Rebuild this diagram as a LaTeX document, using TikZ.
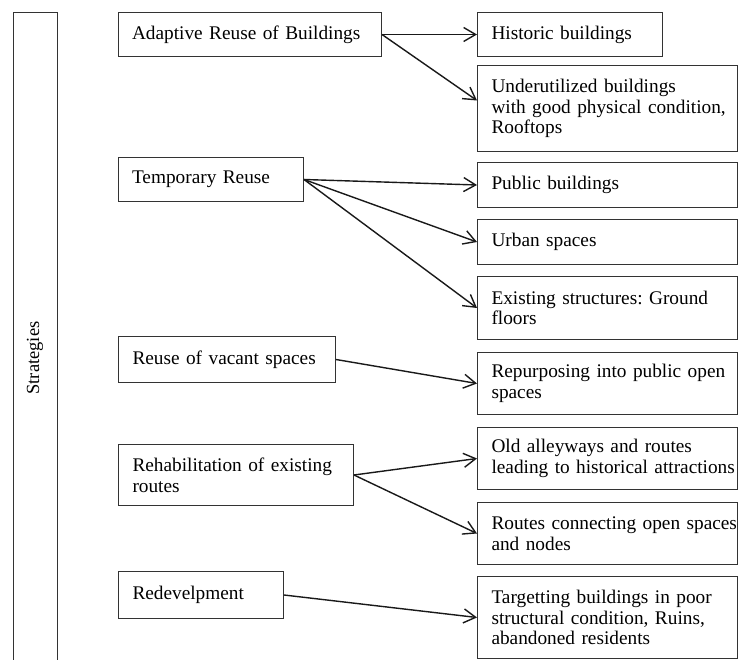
\documentclass[tikz,border=0pt]{standalone}
\usepackage{fontspec}
\setmainfont{Liberation Serif}
\usetikzlibrary{arrows.meta}

\begin{document}
\begin{tikzpicture}[x=1pt,y=-1pt,
	box/.style={draw=black!80,line width=1pt,anchor=north west,align=left,inner xsep=0pt,inner ysep=0pt,font=\fontsize{19.3}{20.7}\selectfont,execute at begin node={\frenchspacing\leftskip=14pt\relax}},
	link/.style={draw=black!90,line width=1.4pt,-{Straight Barb[length=12pt,width=14pt]}}]
	\useasboundingbox (0,0) rectangle (739,660);
	\clip (0,0) rectangle (739,660);
	\node[draw=black!80,line width=1pt,rotate=90,minimum width=690pt,minimum height=44pt,inner sep=0pt,font=\fontsize{18.5}{20}\selectfont] (strat) at (35,358) {Strategies};
	\node[box,text width=263.5pt,minimum height=44pt] (adapt) at (117.5,12) {Adaptive Reuse of Buildings};
	\node[box,text width=185.5pt,minimum height=44pt] (temp) at (117.5,157) {Temporary Reuse};
	\node[box,text width=217pt,minimum height=46pt] (vacant) at (118,336) {Reuse of vacant spaces};
	\node[box,text width=235pt,minimum height=61pt] (rehab) at (118,444) {Rehabilitation of existing\\routes};
	\node[box,text width=165pt,minimum height=47pt] (redev) at (118,571) {Redevelpment};
	\node[box,text width=185pt,minimum height=44pt] (hist) at (477,12) {Historic buildings};
	\node[box,text width=260pt,minimum height=86pt] (under) at (477,65) {Underutilized buildings\\with good physical condition,\\Rooftops};
	\node[box,text width=260pt,minimum height=45pt] (public) at (477,162) {Public buildings};
	\node[box,text width=260pt,minimum height=45pt] (urban) at (477,219) {Urban spaces};
	\node[box,text width=260pt,minimum height=63pt] (exist) at (477,276) {Existing structures: Ground\\floors};
	\node[box,text width=260pt,minimum height=62pt] (repurp) at (477,352) {Repurposing into public open\\spaces};
	\node[box,text width=260pt,minimum height=62pt] (alley) at (477,427) {Old alleyways and routes\\leading to historical attractions};
	\node[box,text width=260pt,minimum height=62pt] (routes) at (477,502) {Routes connecting open spaces\\and nodes};
	\node[box,text width=260pt,minimum height=82pt] (target) at (477,576) {Targetting buildings in poor\\structural condition, Ruins,\\abandoned residents};
	\draw[link] (adapt.east) -- (hist.west);
	\draw[link] (adapt.east) -- ([yshift=8pt]under.west);
	\draw[link] (temp.east) -- (public.west);
	\draw[link] (temp.east) -- (urban.west);
	\draw[link] (temp.east) -- (exist.west);
	\draw[link] (vacant.east) -- (repurp.west);
	\draw[link] (rehab.east) -- (alley.west);
	\draw[link] (rehab.east) -- (routes.west);
	\draw[link] (redev.east) -- (target.west);
\end{tikzpicture}
\end{document}
